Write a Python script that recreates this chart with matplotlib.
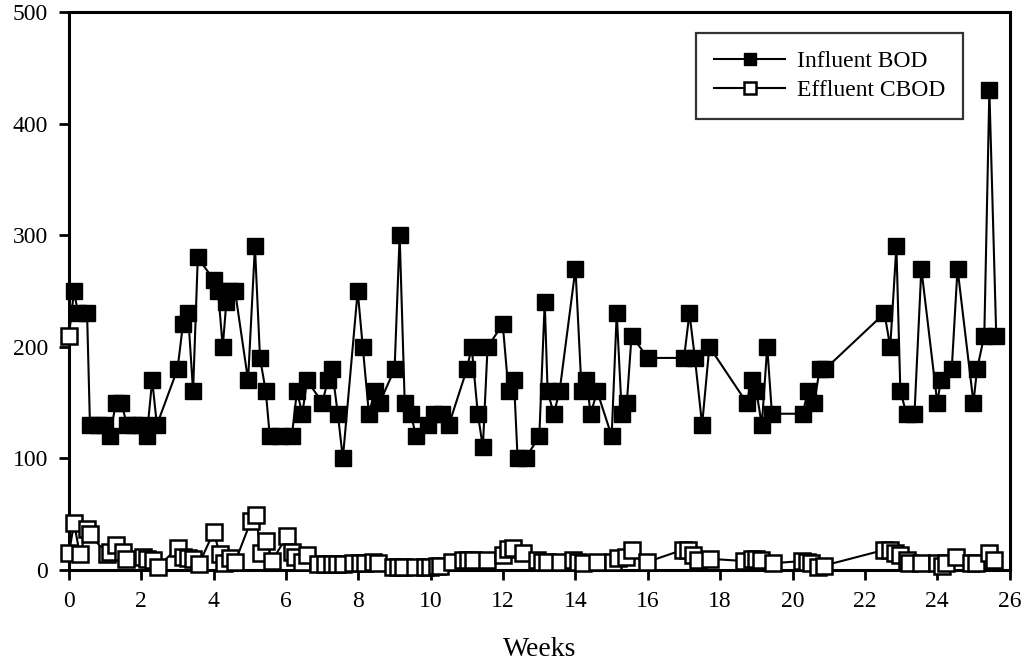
import numpy as np
import matplotlib
matplotlib.use("Agg")
import matplotlib.pyplot as plt

plt.rcParams['font.family'] = ['Liberation Serif', 'DejaVu Serif']

# Influent BOD (mg/L) against time in weeks
inf_weeks = [0, 0.14, 0.25, 0.5, 0.58, 0.8, 1.0, 1.13, 1.3, 1.45, 1.6, 1.8, 2.0,
             2.15, 2.3, 2.43, 3.0, 3.15, 3.29, 3.43, 3.56, 4.0, 4.12, 4.25, 4.35,
             4.45, 4.59, 4.95, 5.14, 5.28, 5.44, 5.55, 5.83, 6.16, 6.3, 6.45, 6.58,
             7.0, 7.16, 7.27, 7.43, 7.57, 7.98, 8.12, 8.29, 8.45, 8.59, 9.0, 9.14,
             9.28, 9.45, 9.59, 9.92, 10.1, 10.3, 10.5, 11.0, 11.13, 11.3, 11.44,
             11.57, 11.99, 12.15, 12.3, 12.4, 12.62, 13.0, 13.15, 13.23, 13.4,
             13.56, 14.0, 14.17, 14.3, 14.42, 14.6, 15.0, 15.14, 15.28, 15.42,
             15.55, 16.0, 17.0, 17.15, 17.3, 17.5, 17.7, 18.73, 18.87, 19.0, 19.15,
             19.3, 19.43, 20.28, 20.42, 20.6, 20.75, 20.9, 22.54, 22.7, 22.87,
             22.98, 23.15, 23.37, 23.56, 24.0, 24.1, 24.4, 24.56, 25.0, 25.1, 25.3,
             25.44, 25.63]
inf_bod = [210, 250, 230, 230, 130, 130, 130, 120, 150, 150, 130, 130, 130,
           120, 170, 130, 180, 220, 230, 160, 280, 260, 250, 200, 240,
           250, 250, 170, 290, 190, 160, 120, 120, 120, 160, 140, 170,
           150, 170, 180, 140, 100, 250, 200, 140, 160, 150, 180, 300,
           150, 140, 120, 130, 140, 140, 130, 180, 200, 140, 110,
           200, 220, 160, 170, 100, 100, 120, 240, 160, 140,
           160, 270, 160, 170, 140, 160, 120, 230, 140, 150,
           210, 190, 190, 230, 190, 130, 200, 150, 170, 160, 130,
           200, 140, 140, 160, 150, 180, 180, 230, 200, 290,
           160, 140, 140, 270, 150, 170, 180, 270, 150, 180, 210,
           430, 210]

# Effluent CBOD (mg/L)
eff_weeks = [0, 0.14, 0.3, 0.5, 0.58, 1.05, 1.13, 1.3, 1.49, 1.57, 2.04, 2.15,
             2.32, 2.46, 3.01, 3.15, 3.29, 3.43, 3.59, 4.0, 4.17, 4.28, 4.45, 4.59,
             5.03, 5.17, 5.3, 5.44, 5.61, 6.02, 6.16, 6.24, 6.44, 6.57, 6.88, 7.07,
             7.27, 7.4, 7.57, 7.85, 8.04, 8.18, 8.4, 8.54, 8.95, 9.09, 9.23, 9.56,
             9.83, 9.97, 10.17, 10.25, 10.58, 10.88, 11.02, 11.16, 11.55, 11.99,
             12.13, 12.27, 12.54, 12.93, 13.07, 13.2, 13.56, 13.92, 14.06, 14.2,
             14.59, 15.03, 15.17, 15.41, 15.55, 15.97, 16.96, 17.1, 17.24, 17.38,
             17.71, 18.67, 18.87, 19.0, 19.14, 19.45, 20.25, 20.39, 20.52, 20.69,
             20.88, 22.54, 22.68, 22.82, 22.96, 23.15, 23.23, 23.56, 23.98, 24.12,
             24.25, 24.53, 24.94, 25.08, 25.44, 25.58]
eff_cbod = [15, 42, 14, 37, 32, 14, 16, 22, 16, 10, 12, 10,
            9, 3, 20, 12, 11, 10, 5, 34, 14, 6, 11, 7,
            44, 49, 15, 26, 8, 30, 16, 12, 7, 13, 5, 5,
            5, 5, 5, 6, 6, 6, 7, 6, 3, 3, 3, 3,
            3, 3, 4, 4, 7, 9, 9, 9, 9, 13,
            19, 20, 15, 9, 7, 7, 7, 9, 7, 6,
            7, 7, 11, 12, 18, 7, 18, 18, 13, 9,
            10, 8, 10, 10, 9, 6, 8, 7, 6, 3,
            4, 18, 18, 15, 13, 9, 6, 6, 6, 4,
            6, 12, 6, 6, 15, 9]

fig, ax = plt.subplots(figsize=(10.25, 6.64), dpi=100)
fig.subplots_adjust(left=0.0673, right=0.985, bottom=0.1416, top=0.982)

ms = 11
ax.plot(inf_weeks, inf_bod, color='black', lw=1.5, marker='s', ms=ms,
        mfc='black', mec='black', markevery=list(range(1, len(inf_weeks))),
        clip_on=False, zorder=3, label='Influent BOD')
# first influent sample is drawn open in the original
ax.plot(inf_weeks[:1], inf_bod[:1], ls='none', marker='s', ms=ms,
        mfc='white', mec='black', mew=1.8, clip_on=False, zorder=4)
ax.plot(eff_weeks, eff_cbod, color='black', lw=1.5, marker='s', ms=ms,
        mfc='white', mec='black', mew=1.8, clip_on=False, zorder=3,
        label='Effluent CBOD')

ax.set_xlim(0, 26)
ax.set_ylim(0, 500)
ax.set_xticks(np.arange(0, 27, 2))
ax.set_yticks(np.arange(0, 501, 100))
for s in ax.spines.values():
    s.set_linewidth(2.2)
ax.tick_params(direction='out', length=7, width=2, labelsize=17, pad=8,
               top=False, right=False)
ax.set_xlabel('Weeks', fontsize=20, labelpad=18)

leg = ax.legend(loc='upper left', bbox_to_anchor=(0.667, 0.962), fontsize=17,
                frameon=True, fancybox=False, edgecolor='black', borderaxespad=0,
                handlelength=3.0, handletextpad=0.5, borderpad=0.75,
                labelspacing=0.3, markerscale=0.75)
leg.get_frame().set_linewidth(1.6)

plt.savefig('out.png', dpi=100)
